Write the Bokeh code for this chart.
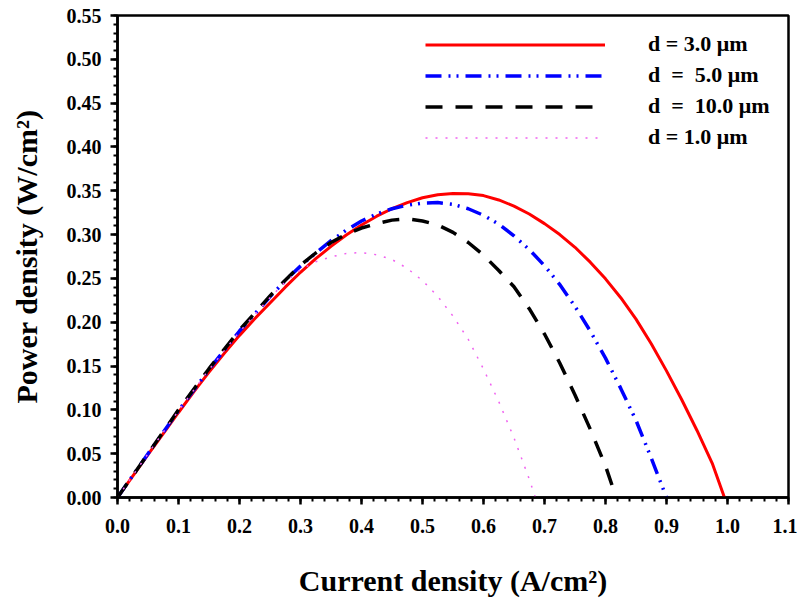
from bokeh.plotting import figure
from bokeh.models import Range1d, FixedTicker, Legend, LegendItem
from bokeh.embed import file_html
from bokeh.resources import INLINE

# Current density (A/cm^2) and power density (W/cm^2)
x_d3 = [0.0, 0.025, 0.05, 0.075, 0.1, 0.125, 0.15, 0.175, 0.2, 0.225, 0.25, 0.275,
        0.3, 0.325, 0.35, 0.375, 0.4, 0.425, 0.45, 0.475, 0.5, 0.525, 0.55, 0.575,
        0.6, 0.625, 0.65, 0.675, 0.7, 0.725, 0.75, 0.775, 0.8, 0.825, 0.85, 0.875,
        0.9, 0.925, 0.95, 0.975, 0.995]
y_d3 = [0.0, 0.0245, 0.049, 0.073, 0.097, 0.1205, 0.143, 0.1645, 0.185, 0.204,
        0.222, 0.240, 0.257, 0.2725, 0.2865, 0.2995, 0.311, 0.321, 0.3295, 0.3365,
        0.342, 0.3455, 0.347, 0.3467, 0.3445, 0.3395, 0.3325, 0.3235, 0.3125, 0.300,
        0.2855, 0.2685, 0.2495, 0.228, 0.2035, 0.1755, 0.1445, 0.1115, 0.0765, 0.039,
        0.0]

x_d5 = [0.0, 0.05, 0.1, 0.15, 0.2, 0.25, 0.275, 0.3, 0.325, 0.35, 0.375, 0.4, 0.425,
        0.45, 0.475, 0.5, 0.525, 0.55, 0.575, 0.6, 0.625, 0.65, 0.675, 0.7, 0.725,
        0.75, 0.775, 0.8, 0.825, 0.85, 0.875, 0.9]
y_d5 = [0.0, 0.050, 0.099, 0.146, 0.190, 0.229, 0.2475, 0.264, 0.279, 0.293, 0.305,
        0.3155, 0.3235, 0.3295, 0.3335, 0.336, 0.3365, 0.3345, 0.3295, 0.322, 0.312,
        0.2985, 0.283, 0.2645, 0.243, 0.218, 0.190, 0.159, 0.1245, 0.088, 0.045, 0.0]

x_d10 = [0.0, 0.05, 0.1, 0.15, 0.2, 0.25, 0.275, 0.3, 0.325, 0.35, 0.375, 0.4, 0.425,
         0.45, 0.475, 0.5, 0.525, 0.55, 0.575, 0.6, 0.625, 0.65, 0.675, 0.7, 0.725,
         0.75, 0.775, 0.8, 0.8175]
y_d10 = [0.0, 0.050, 0.100, 0.147, 0.191, 0.230, 0.248, 0.265, 0.279, 0.291, 0.3005,
         0.3075, 0.3125, 0.3165, 0.318, 0.3155, 0.311, 0.3025, 0.291, 0.2765, 0.259,
         0.2405, 0.2155, 0.1865, 0.1535, 0.117, 0.078, 0.036, 0.0]

x_d1 = [0.0, 0.05, 0.1, 0.15, 0.2, 0.225, 0.25, 0.275, 0.3, 0.325, 0.35, 0.375, 0.4,
        0.425, 0.45, 0.475, 0.5, 0.525, 0.55, 0.575, 0.6, 0.625, 0.65, 0.675, 0.685]
y_d1 = [0.0, 0.050, 0.099, 0.146, 0.189, 0.209, 0.228, 0.246, 0.260, 0.269, 0.2745,
        0.2785, 0.2795, 0.277, 0.2715, 0.2615, 0.2475, 0.2295, 0.207, 0.1805, 0.1465,
        0.1095, 0.068, 0.021, 0.0]

labels = ["d = 3.0 \u03bcm", "d \u00a0= \u00a05.0 \u03bcm",
          "d \u00a0= \u00a010.0 \u03bcm", "d = 1.0 \u03bcm"]

x_ticks = [0.0, 0.1, 0.2, 0.3, 0.4, 0.5, 0.6, 0.7, 0.8, 0.9, 1.0, 1.1]
y_ticks = [0.0, 0.05, 0.1, 0.15, 0.2, 0.25, 0.3, 0.35, 0.4, 0.45, 0.5, 0.55]

W, H = 797, 600
p = figure(width=W, height=H, output_backend="svg", toolbar_location=None,
           x_range=Range1d(0, 1.1), y_range=Range1d(0, 0.55),
           min_border_left=117, min_border_right=W - 788,
           min_border_top=15, min_border_bottom=H - 497)
p.background_fill_color = "white"
p.border_fill_color = "white"
p.outline_line_color = "black"
p.outline_line_width = 2.5
p.xgrid.visible = False
p.ygrid.visible = False

FONT = "Liberation Serif"

r1 = p.line(x_d3, y_d3, line_color="#ff0000", line_width=3)
r2 = p.line(x_d5, y_d5, line_color="#0000ff", line_width=3.5, line_dash="16 7 2 6 2 7")
r3 = p.line(x_d10, y_d10, line_color="black", line_width=3.5, line_dash="17 13")
r4 = p.line(x_d1, y_d1, line_color="#f060f0", line_width=1.5, line_dash="2 8")

for ax in (p.xaxis[0], p.yaxis[0]):
    ax.axis_line_width = 2.5
    ax.major_tick_line_width = 2.5
    ax.minor_tick_line_width = 2
    ax.major_tick_out = 7
    ax.major_tick_in = 0
    ax.minor_tick_out = 4
    ax.minor_tick_in = 0
    ax.major_label_text_font = FONT
    ax.major_label_text_font_style = "bold"
    ax.major_label_text_font_size = "20px"
    ax.major_label_text_color = "black"
    ax.axis_label_text_font = FONT
    ax.axis_label_text_font_style = "bold"
    ax.axis_label_text_font_size = "30px"
    ax.axis_label_text_color = "black"

p.xaxis[0].ticker = FixedTicker(ticks=x_ticks,
                                minor_ticks=[i * 0.02 for i in range(56)])
p.yaxis[0].ticker = FixedTicker(ticks=y_ticks,
                                minor_ticks=[i * 0.01 for i in range(56)])
p.xaxis[0].major_label_overrides = {t: f"{t:.1f}" for t in x_ticks}
p.yaxis[0].major_label_overrides = {t: f"{t:.2f}" for t in y_ticks}
p.xaxis[0].major_label_standoff = 14
p.yaxis[0].major_label_standoff = 9
p.xaxis[0].axis_label = "Current density (A/cm\u00b2)"
p.yaxis[0].axis_label = "Power density (W/cm\u00b2)"
p.xaxis[0].axis_label_standoff = 28
p.yaxis[0].axis_label_standoff = 21

legend = Legend(items=[LegendItem(label=l, renderers=[r]) for l, r in
                       zip(labels, [r1, r2, r3, r4])],
                location=(308, 347), glyph_width=180, glyph_height=25,
                label_height=25, label_standoff=43, spacing=5, padding=0,
                margin=0, border_line_color=None, background_fill_alpha=0,
                label_text_font=FONT, label_text_font_style="bold",
                label_text_font_size="22px", label_text_color="black")
p.add_layout(legend)

open("out.html", "w").write(file_html(p, INLINE))
